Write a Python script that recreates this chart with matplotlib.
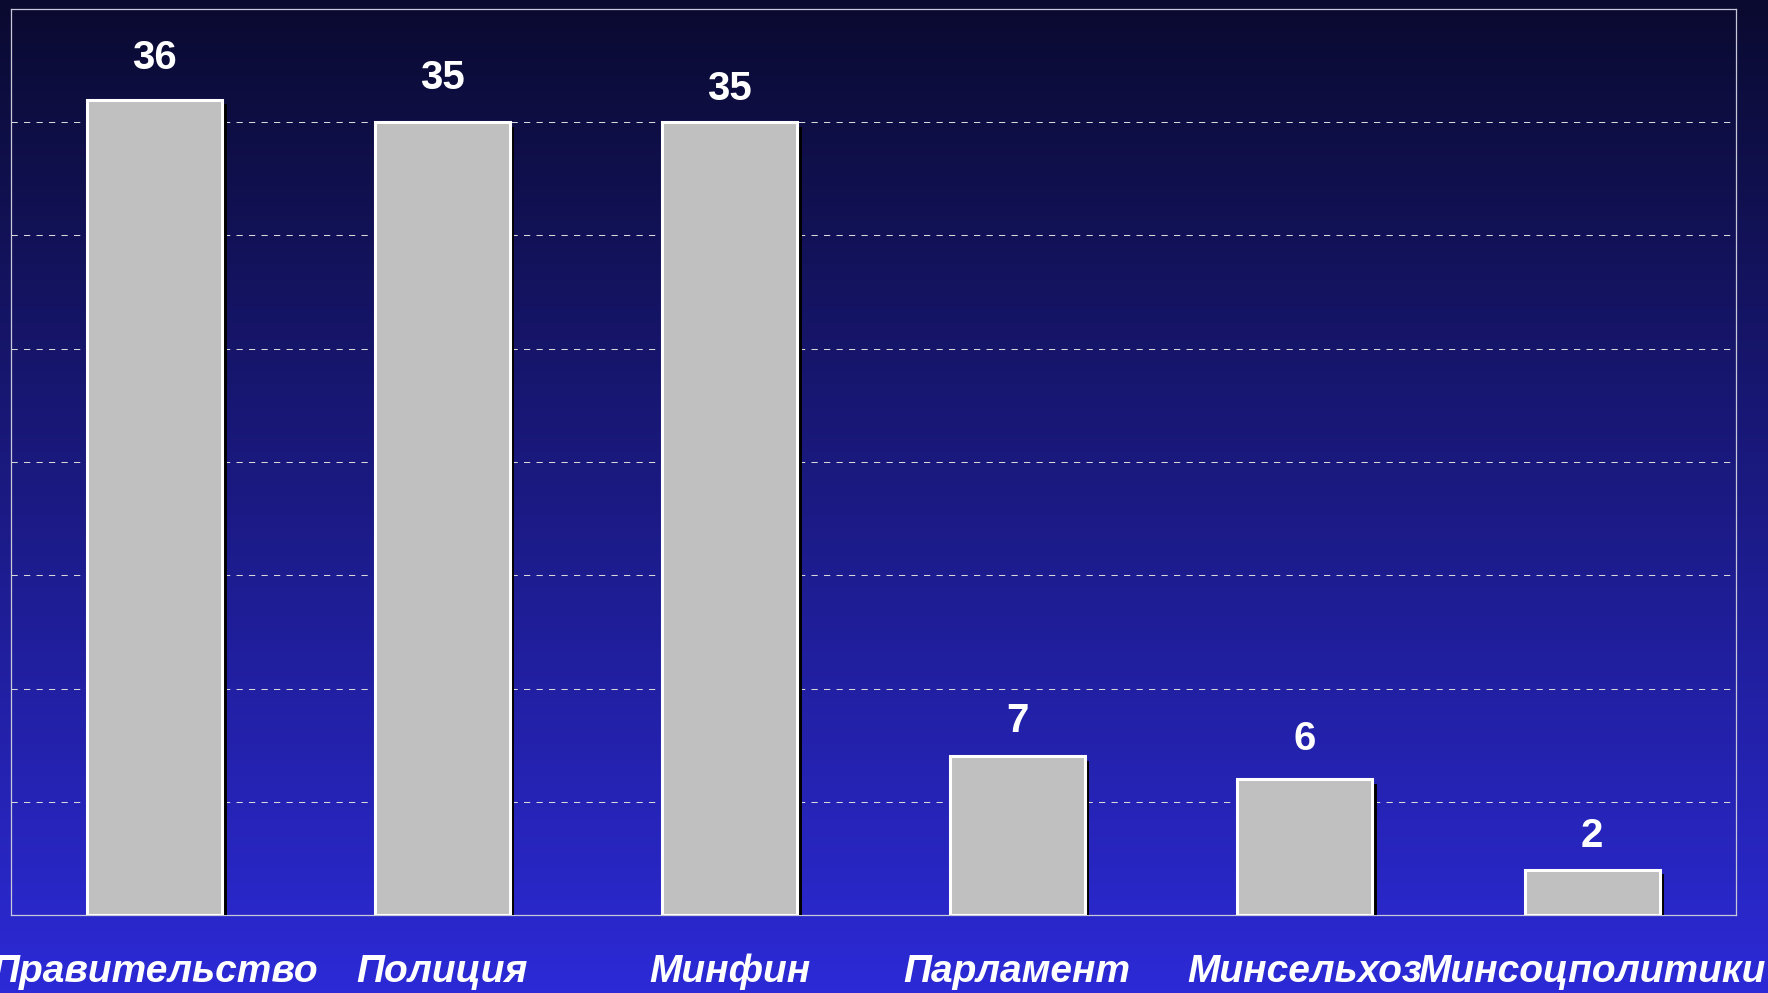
import numpy as np
import matplotlib
matplotlib.use("Agg")
import matplotlib.pyplot as plt
import matplotlib.patheffects as pe

categories = ["Правительство", "Полиция", "Минфин", "Парламент",
              "Минсельхоз", "Минсоцполитики"]
values = [36, 35, 35, 7, 6, 2]
label_gap_px = [23, 25, 14, 16, 21, 15]

plt.rcParams.update({
    "font.family": ["Liberation Sans", "DejaVu Sans"],
})

fig = plt.figure(figsize=(17.68, 9.93), dpi=100)

# vertical gradient background over the whole figure
bg = fig.add_axes([0, 0, 1, 1], zorder=0)
top = np.array([10, 10, 48]) / 255
bot = np.array([44, 42, 214]) / 255
t = np.linspace(0, 1, 256)[:, None]
grad = top[None, :] * (1 - t) + bot[None, :] * t
bg.imshow(grad[:, None, :], aspect="auto", extent=[0, 1, 0, 1])
bg.set_axis_off()

ax = fig.add_axes([11 / 1768, 1 - 915 / 993, 1725 / 1768, 906 / 993], zorder=1)
ax.patch.set_alpha(0)
x = np.arange(len(categories))
bars = ax.bar(x, values, width=0.47, color="#c0c0c0", edgecolor="white",
              linewidth=2.2, zorder=3)
for b in bars:
    b.set_path_effects([pe.SimplePatchShadow(offset=(3.2, -3.2),
                                             shadow_rgbFace="black", alpha=1),
                        pe.Normal()])

for xi, v, gap in zip(x, values, label_gap_px):
    ax.annotate(str(v), (xi, v), xytext=(0, gap), textcoords="offset pixels",
                ha="center", va="bottom", color="white", fontsize=29,
                fontweight="bold", zorder=4)

ax.set_xlim(-0.5, len(categories) - 0.5)
ax.set_ylim(0, 40)
ax.set_yticks(np.arange(5, 40, 5))
ax.set_yticklabels([])
ax.tick_params(axis="y", length=0)
ax.yaxis.grid(True, color="#d8d8d8", linewidth=0.75, linestyle=(0, (6, 6)),
              zorder=1)
ax.set_axisbelow(True)
ax.set_xticks(x)
ax.set_xticklabels(categories, color="white", fontsize=28, fontweight="bold",
                   fontstyle="italic")
ax.tick_params(axis="x", length=0, pad=28)
for s in ax.spines.values():
    s.set_color("#c8c8d8")
    s.set_linewidth(0.9)

fig.savefig("out.png", dpi=100)
